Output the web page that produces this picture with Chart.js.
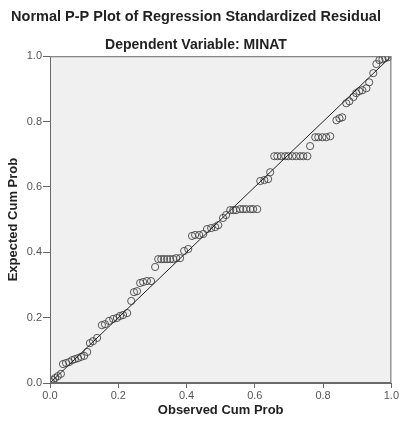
<!DOCTYPE html>
<html>
<head>
<meta charset="utf-8">
<script src="https://cdn.jsdelivr.net/npm/chart.js@4"></script>
<style>
  html, body { margin: 0; padding: 0; background: #fff; }
  #wrap { width: 400px; height: 421px; }
</style>
</head>
<body>
<div id="wrap"><canvas id="ppChart" width="400" height="421"></canvas></div>
<script>
// observed cum prob (x) and expected cum prob (y)
const observedCum = [
  0.003, 0.009, 0.015, 0.023, 0.032, 0.038, 0.047, 0.056, 0.065, 0.073,
  0.082, 0.091, 0.100, 0.109, 0.117, 0.126, 0.138, 0.152, 0.161, 0.173,
  0.185, 0.196, 0.205, 0.214, 0.226, 0.238, 0.246, 0.255, 0.264, 0.273,
  0.284, 0.296, 0.308, 0.317, 0.326, 0.334, 0.343, 0.352, 0.361, 0.370,
  0.381, 0.393, 0.405, 0.416, 0.425, 0.437, 0.449, 0.460, 0.472, 0.484,
  0.493, 0.507, 0.516, 0.528, 0.537, 0.545, 0.557, 0.566, 0.575, 0.587,
  0.595, 0.607, 0.616, 0.628, 0.639, 0.645, 0.657, 0.666, 0.677, 0.689,
  0.698, 0.710, 0.721, 0.733, 0.742, 0.754, 0.762, 0.777, 0.786, 0.798,
  0.809, 0.821, 0.839, 0.848, 0.856, 0.868, 0.877, 0.889, 0.897, 0.906,
  0.915, 0.927, 0.935, 0.947, 0.956, 0.965, 0.974, 0.982, 0.991
];
const expectedCum = [
  0.003, 0.009, 0.015, 0.021, 0.028, 0.058, 0.061, 0.064, 0.070, 0.073,
  0.076, 0.080, 0.083, 0.095, 0.122, 0.128, 0.138, 0.177, 0.180, 0.190,
  0.196, 0.199, 0.205, 0.208, 0.214, 0.251, 0.278, 0.281, 0.306, 0.309,
  0.312, 0.312, 0.355, 0.379, 0.379, 0.379, 0.379, 0.379, 0.379, 0.382,
  0.382, 0.404, 0.410, 0.450, 0.453, 0.453, 0.456, 0.471, 0.474, 0.477,
  0.483, 0.505, 0.514, 0.529, 0.529, 0.529, 0.532, 0.532, 0.532, 0.532,
  0.532, 0.532, 0.618, 0.621, 0.624, 0.645, 0.694, 0.694, 0.694, 0.694,
  0.694, 0.694, 0.694, 0.694, 0.694, 0.694, 0.725, 0.752, 0.752, 0.752,
  0.752, 0.755, 0.804, 0.810, 0.813, 0.856, 0.862, 0.875, 0.887, 0.893,
  0.896, 0.902, 0.920, 0.948, 0.976, 0.988, 0.991, 0.994, 0.997
];
// the diagonal reference line
const refLine = [0, 1];
const tickValues = [0, 0.2, 0.4, 0.6, 0.8, 1.0];

const points = observedCum.map((x, i) => ({ x: x, y: expectedCum[i] }));
const diag = refLine.map(v => ({ x: v, y: v }));

const FONT = '"Liberation Sans", Arial, sans-serif';

// grey plot background + frame like SPSS
const plotFrame = {
  id: 'plotFrame',
  beforeDatasetsDraw(chart) {
    const { ctx, chartArea: a } = chart;
    ctx.save();
    ctx.fillStyle = '#f0f0f0';
    ctx.fillRect(a.left, a.top, a.right - a.left, a.bottom - a.top);
    ctx.restore();
  },
  afterDraw(chart) {
    const { ctx, chartArea: a } = chart;
    ctx.save();
    ctx.strokeStyle = '#6a6a6a';
    ctx.lineWidth = 1;
    ctx.strokeRect(a.left + 0.5, a.top + 0.5, a.right - a.left - 1, a.bottom - a.top - 1);
    ctx.restore();
  }
};

new Chart(document.getElementById('ppChart'), {
  type: 'scatter',
  data: {
    datasets: [
      {
        label: 'Residual',
        data: points,
        pointStyle: 'circle',
        pointRadius: 3.6,
        pointBorderWidth: 0.9,
        pointBorderColor: '#444',
        pointBackgroundColor: 'rgba(0,0,0,0)',
        order: 2
      },
      {
        label: 'Reference',
        data: diag,
        showLine: true,
        borderColor: '#222',
        borderWidth: 1,
        pointRadius: 0,
        order: 1
      }
    ]
  },
  plugins: [plotFrame],
  options: {
    responsive: false,
    animation: false,
    layout: { padding: { left: 0, right: 8, top: 0, bottom: 0 } },
    plugins: {
      legend: { display: false },
      tooltip: { enabled: false },
      title: {
        display: true,
        text: 'Normal P-P Plot of Regression Standardized Residual',
        color: '#222',
        font: { family: FONT, size: 14.5, weight: 'bold' },
        padding: { top: 8, bottom: 8 }
      },
      subtitle: {
        display: true,
        text: 'Dependent Variable: MINAT',
        color: '#222',
        font: { family: FONT, size: 14, weight: 'bold' },
        padding: { top: 3, bottom: 3 }
      }
    },
    scales: {
      x: {
        type: 'linear',
        min: 0,
        max: 1,
        afterBuildTicks: s => { s.ticks = tickValues.map(v => ({ value: v })); },
        afterFit: s => { s.height = 38; },
        grid: { drawOnChartArea: false, drawTicks: true, tickLength: 5, color: '#666' },
        border: { color: '#6a6a6a' },
        ticks: {
          color: '#555',
          font: { family: FONT, size: 11 },
          padding: 1,
          maxRotation: 0,
          callback: v => v.toFixed(1)
        },
        title: {
          display: true,
          text: 'Observed Cum Prob',
          color: '#222',
          font: { family: FONT, size: 13, weight: 'bold' },
          padding: { top: 0, bottom: 3 }
        }
      },
      y: {
        type: 'linear',
        min: 0,
        max: 1,
        afterBuildTicks: s => { s.ticks = tickValues.map(v => ({ value: v })); },
        afterFit: s => { s.width = 50; },
        grid: { drawOnChartArea: false, drawTicks: true, tickLength: 7, color: '#666' },
        border: { color: '#6a6a6a' },
        ticks: {
          color: '#555',
          font: { family: FONT, size: 11 },
          padding: 1,
          callback: v => v.toFixed(1)
        },
        title: {
          display: true,
          text: 'Expected Cum Prob',
          color: '#222',
          font: { family: FONT, size: 13, weight: 'bold' },
          padding: { top: 6, bottom: 0 }
        }
      }
    }
  }
});
</script>
</body>
</html>
